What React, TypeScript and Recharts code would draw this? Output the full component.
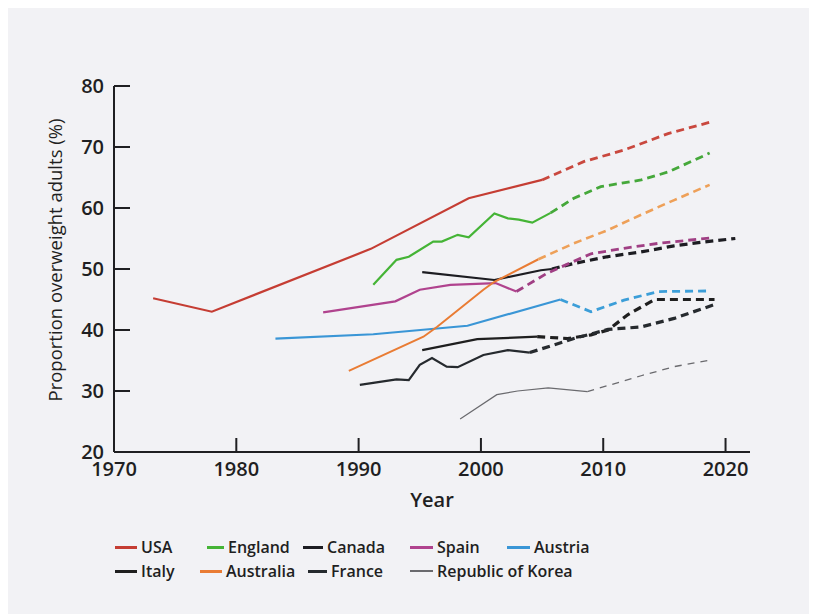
import React from 'react';
import { LineChart, Line, XAxis, YAxis } from 'recharts';

type Pt = [number, number];

// solid = measured, dashed = projected
const usaSolid: Pt[] = [[1973.2, 45.2], [1978, 43], [1991, 53.3], [1999, 61.6], [2005, 64.6]];
const usaDashed: Pt[] = [[2005, 64.6], [2008.4, 67.6], [2011.7, 69.5], [2015.3, 72.2], [2018.8, 74.1]];

const englandSolid: Pt[] = [
  [1991.2, 47.4], [1993.1, 51.5], [1994.1, 52], [1996.1, 54.5], [1996.8, 54.5], [1998.1, 55.6],
  [1999, 55.2], [2001.1, 59.1], [2002.2, 58.3], [2003.1, 58.1], [2004.2, 57.6], [2005.7, 59.2],
];
const englandDashed: Pt[] = [[2005.7, 59.2], [2007.6, 61.6], [2009.8, 63.5], [2013.1, 64.6], [2015.3, 65.9], [2018.7, 69]];

const canadaSolid: Pt[] = [[1995.2, 49.5], [2001.1, 48.2], [2004.9, 49.8], [2005.8, 50]];
const canadaDashed: Pt[] = [[2005.8, 50], [2007.6, 50.9], [2010.3, 52], [2013.1, 52.8], [2015.8, 53.8], [2018.5, 54.5], [2020.8, 55]];

const spainSolid: Pt[] = [[1987.1, 42.9], [1993, 44.7], [1995, 46.6], [1997.5, 47.4], [2001.2, 47.7], [2002.9, 46.3]];
const spainDashed: Pt[] = [[2002.9, 46.3], [2005.4, 49.3], [2009, 52.5], [2011.7, 53.4], [2014.5, 54.2], [2018.8, 55.1]];

const austriaSolid: Pt[] = [[1983.2, 38.6], [1991.2, 39.3], [1998.9, 40.7], [2006.5, 45]];
const austriaDashed: Pt[] = [[2006.5, 45], [2009, 43], [2011.7, 44.9], [2014.5, 46.3], [2018.8, 46.4]];

const italySolid: Pt[] = [[1995.2, 36.7], [1999.7, 38.5], [2004.6, 38.9]];
const italyDashed: Pt[] = [[2004.6, 38.9], [2007.1, 38.6], [2009, 39.2], [2010.4, 40], [2012, 42.5], [2014.2, 45], [2019.1, 45]];

const australiaSolid: Pt[] = [[1989.2, 33.3], [1995.3, 38.9], [1996.4, 40.5], [2000.2, 46.6], [2001.1, 47.9], [2004.7, 51.6]];
const australiaDashed: Pt[] = [[2004.7, 51.6], [2007.6, 54.2], [2010.4, 56.4], [2013.1, 58.9], [2015.8, 61.3], [2018.7, 63.8]];

const franceSolid: Pt[] = [
  [1990.1, 31], [1993.1, 31.9], [1994.1, 31.8], [1995, 34.3], [1996, 35.4], [1997.2, 34],
  [1998.1, 33.9], [2000.2, 35.9], [2002.2, 36.7], [2004, 36.3],
];
const franceDashed: Pt[] = [[2004, 36.3], [2007.6, 38.6], [2010.4, 40.1], [2013.1, 40.5], [2015.8, 41.9], [2019, 44.1]];

const koreaSolid: Pt[] = [[1998.3, 25.4], [2001.3, 29.4], [2003, 30], [2005.5, 30.5], [2008.7, 29.9]];
const koreaDashed: Pt[] = [[2008.7, 29.9], [2013.1, 32.5], [2015.8, 34], [2018.6, 35]];

const xTicks = [1970, 1980, 1990, 2000, 2010, 2020];
const yTicks = [20, 30, 40, 50, 60, 70, 80];

const FONT = '"Open Sans", "Noto Sans", sans-serif';
const INK = '#1f1f22';

const rows = (pts: Pt[]) => pts.map(([year, value]) => ({ year, value }));

const series = [
  { name: 'USA', color: '#c53d33', dash: '#c9483e', solid: usaSolid, dashed: usaDashed, w: 2.2, dw: 2.8 },
  { name: 'England', color: '#45b436', dash: '#45a83a', solid: englandSolid, dashed: englandDashed, w: 2.2, dw: 2.8 },
  { name: 'Canada', color: '#1d1d22', dash: '#1d1d22', solid: canadaSolid, dashed: canadaDashed, w: 2.2, dw: 3.2 },
  { name: 'Spain', color: '#b0438e', dash: '#a03f84', solid: spainSolid, dashed: spainDashed, w: 2.2, dw: 2.8 },
  { name: 'Austria', color: '#3a96d6', dash: '#3c9ed8', solid: austriaSolid, dashed: austriaDashed, w: 2.2, dw: 2.8 },
  { name: 'Italy', color: '#1f1f1f', dash: '#1f1f1f', solid: italySolid, dashed: italyDashed, w: 2.2, dw: 3.2 },
  { name: 'Australia', color: '#e97c34', dash: '#eea058', solid: australiaSolid, dashed: australiaDashed, w: 2, dw: 2.6 },
  { name: 'France', color: '#262a2e', dash: '#262a2e', solid: franceSolid, dashed: franceDashed, w: 2.2, dw: 3.2 },
  { name: 'Republic of Korea', color: '#6a6a6e', dash: '#6a6a6e', solid: koreaSolid, dashed: koreaDashed, w: 1.2, dw: 1.3 },
];

// legend slots, two rows as in the printed figure
const legendSlots: { name: string; left: number; top: number; sw: number }[] = [
  { name: 'USA', left: 107, top: 529, sw: 22 },
  { name: 'England', left: 199, top: 529, sw: 17 },
  { name: 'Canada', left: 295, top: 529, sw: 20 },
  { name: 'Spain', left: 402, top: 529, sw: 23 },
  { name: 'Austria', left: 499, top: 529, sw: 23 },
  { name: 'Italy', left: 107, top: 553, sw: 22 },
  { name: 'Australia', left: 192, top: 553, sw: 22 },
  { name: 'France', left: 300, top: 553, sw: 19 },
  { name: 'Republic of Korea', left: 402, top: 553, sw: 23 },
];

const tickStyle = { fill: INK, fontSize: 20, fontWeight: 600, fontFamily: FONT };

export default function App() {
  return (
    <div style={{ position: 'relative', width: 804, height: 606, background: '#f2f2f5', fontFamily: FONT }}>
      <LineChart width={804} height={606} margin={{ top: 78, right: 62, bottom: 122, left: 46 }}>
        <XAxis
          type="number"
          dataKey="year"
          domain={[1970, 2022]}
          ticks={xTicks}
          allowDataOverflow
          tick={tickStyle}
          tickSize={-14}
          tickMargin={24}
          height={40}
          axisLine={{ stroke: INK, strokeWidth: 2 }}
          tickLine={{ stroke: INK, strokeWidth: 2 }}
          label={{ value: 'Year', position: 'bottom', offset: 1, fill: INK, fontSize: 20, fontWeight: 600, fontFamily: FONT }}
        />
        <YAxis
          type="number"
          dataKey="value"
          domain={[20, 80]}
          ticks={yTicks}
          width={60}
          tick={tickStyle}
          tickSize={-16}
          tickMargin={26}
          axisLine={{ stroke: INK, strokeWidth: 2 }}
          tickLine={{ stroke: INK, strokeWidth: 2 }}
          label={{
            value: 'Proportion overweight adults (%)',
            angle: -90,
            position: 'insideLeft',
            dx: -4,
            dy: -9,
            style: { textAnchor: 'middle' },
            fill: INK,
            fontSize: 18.5,
            fontWeight: 500,
            fontFamily: FONT,
          }}
        />
        {series.map((s) => (
          <Line
            key={s.name + '-solid'}
            data={rows(s.solid)}
            dataKey="value"
            type="linear"
            stroke={s.color}
            strokeWidth={s.w}
            dot={false}
            activeDot={false}
            isAnimationActive={false}
          />
        ))}
        {series.map((s) => (
          <Line
            key={s.name + '-dashed'}
            data={rows(s.dashed)}
            dataKey="value"
            type="linear"
            stroke={s.dash}
            strokeWidth={s.dw}
            strokeDasharray={s.w < 2 ? '7 6' : '8 5'}
            dot={false}
            activeDot={false}
            isAnimationActive={false}
          />
        ))}
      </LineChart>
      {legendSlots.map((slot) => {
        const s = series.find((x) => x.name === slot.name)!;
        return (
          <div
            key={slot.name}
            style={{
              position: 'absolute',
              left: slot.left,
              top: slot.top,
              display: 'flex',
              alignItems: 'center',
              fontSize: 16,
              fontWeight: 600,
              color: INK,
              lineHeight: '20px',
              whiteSpace: 'nowrap',
            }}
          >
            <span
              style={{
                display: 'inline-block',
                width: slot.sw,
                height: s.w < 2 ? 1.5 : 3,
                background: s.color,
                marginRight: 4,
              }}
            />
            {slot.name}
          </div>
        );
      })}
    </div>
  );
}
